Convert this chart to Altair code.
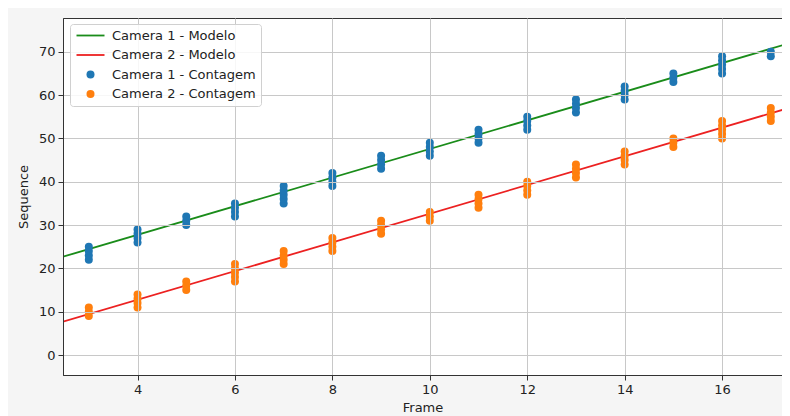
import altair as alt
import pandas as pd

# ---- data ----
frames = list(range(3, 18))
cam1_counts = [
    [22, 23, 24, 25], [26, 27, 28, 29], [30, 31, 32], [32, 33, 34, 35],
    [35, 36, 37, 38, 39], [39, 40, 41, 42], [43, 44, 45, 46], [46, 47, 48, 49],
    [49, 50, 51, 52], [52, 53, 54, 55], [56, 57, 58, 59], [59, 60, 61, 62],
    [63, 64, 65], [65, 66, 67, 68, 69], [69, 70],
]
cam2_counts = [
    [9, 10, 11], [11, 12, 13, 14], [15, 16, 17], [17, 18, 19, 20, 21],
    [21, 22, 23, 24], [24, 25, 26, 27], [28, 29, 30, 31], [31, 32, 33],
    [34, 35, 36, 37], [37, 38, 39, 40], [41, 42, 43, 44], [44, 45, 46, 47],
    [48, 49, 50], [50, 51, 52, 53, 54], [54, 55, 56, 57],
]
model_x = [2.47, 17.42]
model1_y = [22.7, 72.1]
model2_y = [7.7, 57.2]

labels = ["Camera 1 - Modelo", "Camera 2 - Modelo",
          "Camera 1 - Contagem", "Camera 2 - Contagem"]
colors = ["#1a8c1a", "#ec2121", "#1f77b4", "#ff7f0e"]
x_ticks = [4, 6, 8, 10, 12, 14, 16]
y_ticks = [0, 10, 20, 30, 40, 50, 60, 70]
x_domain = [2.47, 17.23]
y_domain = [-4.6, 77.8]

# ---- tables ----
pts = []
for lab, counts in ((labels[2], cam1_counts), (labels[3], cam2_counts)):
    for f, vals in zip(frames, counts):
        for v in vals:
            pts.append({"Frame": f, "Sequence": v, "label": lab})
pts = pd.DataFrame(pts)

lines = pd.DataFrame(
    [{"Frame": x, "Sequence": y, "label": labels[0]} for x, y in zip(model_x, model1_y)]
    + [{"Frame": x, "Sequence": y, "label": labels[1]} for x, y in zip(model_x, model2_y)]
)

legend = alt.Legend(
    title=None,
    orient="none",
    legendX=7,
    legendY=6,
    padding=5,
    fillColor="rgba(255,255,255,0.85)",
    strokeColor="#d0d0d0",
    cornerRadius=3,
    labelFont="DejaVu Sans",
    labelFontSize=13,
    labelColor="#222222",
    symbolSize=64,
    symbolOffset=9,
    labelOffset=15,
    rowPadding=5.5,
    zindex=2,
    symbolOpacity=1,
    symbolType=alt.ExprRef(expr="datum.index < 2 ? 'M-3.5,0L3.5,0' : 'circle'"),
    symbolStrokeWidth=alt.ExprRef(expr="datum.index < 2 ? 1.8 : 0"),
)

color = alt.Color(
    "label:N",
    scale=alt.Scale(domain=labels, range=colors),
    legend=legend,
)

x_enc = alt.X(
    "Frame:Q",
    scale=alt.Scale(domain=x_domain, nice=False, zero=False),
    axis=alt.Axis(values=x_ticks, format="d", title="Frame", titlePadding=5, zindex=1),
)
y_enc = alt.Y(
    "Sequence:Q",
    scale=alt.Scale(domain=y_domain, nice=False, zero=False),
    axis=alt.Axis(values=y_ticks, format="d", title="Sequence", titlePadding=8, zindex=1),
)

line_layer = alt.Chart(lines).mark_line(strokeWidth=1.8, clip=True).encode(
    x=x_enc, y=y_enc, color=color
)
point_layer = alt.Chart(pts).mark_circle(size=64, opacity=1).encode(
    x=x_enc, y=y_enc, color=color
)

chart = (
    alt.layer(line_layer, point_layer)
    .properties(
        width=719,
        height=357,
        autosize=alt.AutoSizeParams(type="none"),
        padding={"left": 55, "top": 10, "right": 0, "bottom": 41},
        background="#f5f5f5",
    )
    .configure_view(fill="white", stroke="#333333", strokeWidth=1)
    .configure_axis(
        labelFont="DejaVu Sans",
        labelFontSize=13,
        labelColor="#222222",
        titleFont="DejaVu Sans",
        titleFontSize=13,
        titleFontWeight="normal",
        titleColor="#222222",
        tickColor="#333333",
        tickSize=5,
        labelPadding=3,
        domainColor="#333333",
        gridColor="#c8c8c8",
        gridWidth=1,
    )
)

chart.save("out.html", embed_options={"renderer": "svg", "actions": False})
